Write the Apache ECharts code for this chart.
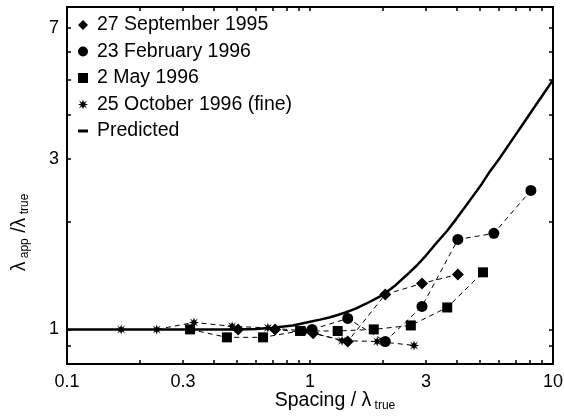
<!DOCTYPE html>
<html>
<head>
<meta charset="utf-8">
<script src="https://cdn.jsdelivr.net/npm/echarts@6/dist/echarts.min.js"></script>
<style>html,body{margin:0;padding:0;background:#fff}#c{width:564px;height:416px}</style>
</head>
<body>
<div id="c"></div>
<script>
// ---- data ----
var sep95X = [0.506, 0.718, 1.03, 1.43, 2.04, 2.89, 4.06];
var sep95Y = [1.0, 1.0, 0.975, 0.925, 1.253, 1.345, 1.426];

var feb96X = [1.02, 1.43, 2.04, 2.89, 4.06, 5.71, 8.11];
var feb96Y = [1.0, 1.073, 0.925, 1.16, 1.786, 1.858, 2.45];

var may96X = [0.321, 0.455, 0.641, 0.91, 1.30, 1.83, 2.6, 3.67, 5.15];
var may96Y = [1.0, 0.95, 0.95, 0.99, 0.99, 1.0, 1.026, 1.152, 1.445];

var oct96X = [0.167, 0.234, 0.333, 0.478, 0.671, 0.96, 1.355, 1.89, 2.68];
var oct96Y = [1.0, 1.0, 1.046, 1.02, 1.01, 0.99, 0.93, 0.925, 0.902];

var predX = [0.1, 0.3, 0.5, 0.6, 0.7, 0.85, 1.0, 1.1, 1.2, 1.3, 1.4, 1.55, 1.7, 1.85, 2.0, 2.25, 2.5, 2.75, 3.0, 3.3, 3.67, 4.0, 4.3, 4.7, 5.1, 5.5, 6.0, 6.5, 7.0, 7.5, 8.5, 9.0, 10];
var predY = [1, 1, 1.0, 1.003, 1.01, 1.025, 1.05, 1.065, 1.08, 1.097, 1.115, 1.145, 1.18, 1.215, 1.25, 1.33, 1.42, 1.51, 1.61, 1.74, 1.89, 2.04, 2.18, 2.37, 2.56, 2.77, 3.0, 3.25, 3.5, 3.75, 4.25, 4.5, 5.0];

var seriesNames = ['27 September 1995', '23 February 1996', '2 May 1996', '25 October 1996 (fine)', 'Predicted'];

var xTickLabels = [0.1, 0.3, 1, 3, 10];
var xTickMarks = [0.2, 0.3, 0.4, 0.5, 0.6, 0.7, 0.8, 0.9, 1, 2, 3, 4, 5, 6, 7, 8, 9];
var yTickLabels = [1, 3, 7];
var yTickMarks = [0.9, 1, 2, 3, 4, 5, 6, 7];

function zip(xs, ys) { return xs.map(function (x, i) { return [x, ys[i]]; }); }

var FONT = 'Liberation Sans';
var starPath = 'path://M5,0 L6,3 L9,1 L7,4 L10,5 L7,6 L9,9 L6,7 L5,10 L4,7 L1,9 L3,6 L0,5 L3,4 L1,1 L4,3 Z';
var dashPath = 'path://M0,0 H10 V3 H0 Z';

function fmt(v) { return String(+(+v).toPrecision(3)); }

function axisCommon(min, max, ticks, labels, showLabel, pos) {
  return {
    type: 'log', logBase: 10, min: min, max: max, position: pos,
    axisLine: { show: true, onZero: false, lineStyle: { color: '#000', width: 2 } },
    axisTick: { show: true, inside: true, length: 4, customValues: ticks, lineStyle: { color: '#000', width: 1.5 } },
    axisLabel: { show: showLabel, customValues: labels, formatter: fmt, color: '#000', fontFamily: FONT, fontSize: 18, margin: 9 },
    splitLine: { show: false },
    minorTick: { show: false },
    nameMoveOverlap: false
  };
}

var xBottom = axisCommon(0.1, 10, xTickMarks, xTickLabels, true, 'bottom');
xBottom.name = '{a|Spacing / λ}{s| true}';
xBottom.nameLocation = 'middle';
xBottom.nameGap = 27;
xBottom.nameTextStyle = {
  rich: {
    a: { fontFamily: FONT, fontSize: 19.5, color: '#000', lineHeight: 21, verticalAlign: 'top', padding: [0, 0, 0, 50] },
    s: { fontFamily: FONT, fontSize: 12, color: '#000', lineHeight: 12, verticalAlign: 'bottom', padding: [12, 0, 0, 0] }
  }
};
var xTop = axisCommon(0.1, 10, xTickMarks, xTickLabels, false, 'top');

var yLeft = axisCommon(0.8, 8, yTickMarks, yTickLabels, true, 'left');
yLeft.axisLabel.margin = 8;
yLeft.name = '{a|λ}{s| app}{a| /λ}{t| true}';
yLeft.nameLocation = 'middle';
yLeft.nameRotate = 90;
yLeft.nameGap = 36;
yLeft.nameTextStyle = {
  rich: {
    a: { fontFamily: FONT, fontSize: 19.5, color: '#000', lineHeight: 21, verticalAlign: 'top' },
    s: { fontFamily: FONT, fontSize: 12, color: '#000', lineHeight: 12, verticalAlign: 'bottom', padding: [12, 0, 0, 0] },
    t: { fontFamily: FONT, fontSize: 12, color: '#000', lineHeight: 12, verticalAlign: 'bottom', padding: [12, 94, 0, 0] }
  }
};
var yRight = axisCommon(0.8, 8, yTickMarks, yTickLabels, false, 'right');

function dataSeries(name, xs, ys, symbol, size) {
  return {
    name: name, type: 'line', xAxisIndex: 0, yAxisIndex: 0,
    data: zip(xs, ys),
    symbol: symbol, symbolSize: size, showSymbol: true,
    itemStyle: { color: '#000' },
    lineStyle: { color: '#000', width: 1, type: [5, 4] },
    z: 3, animation: false
  };
}

var option = {
  animation: false,
  backgroundColor: '#fff',
  grid: { left: 67, right: 11, top: 7, bottom: 52, containLabel: false, outerBoundsMode: 'none' },
  legend: {
    orient: 'vertical', left: 73, top: 10, itemGap: 6.5,
    itemWidth: 10, itemHeight: 10, selectedMode: false,
    textStyle: { fontFamily: FONT, fontSize: 19.5, color: '#000', padding: [0, 0, 0, 4] },
    data: [
      { name: seriesNames[0], icon: 'diamond' },
      { name: seriesNames[1], icon: 'circle' },
      { name: seriesNames[2], icon: 'rect' },
      { name: seriesNames[3], icon: starPath },
      { name: seriesNames[4], icon: dashPath }
    ]
  },
  xAxis: [xBottom, xTop],
  yAxis: [yLeft, yRight],
  series: [
    dataSeries(seriesNames[0], sep95X, sep95Y, 'diamond', 12),
    dataSeries(seriesNames[1], feb96X, feb96Y, 'circle', 11),
    dataSeries(seriesNames[2], may96X, may96Y, 'rect', 10),
    dataSeries(seriesNames[3], oct96X, oct96Y, starPath, 10),
    {
      name: seriesNames[4], type: 'line', data: zip(predX, predY),
      symbol: 'none', smooth: false,
      itemStyle: { color: '#000' },
      lineStyle: { color: '#000', width: 2.5 }, z: 2
    }
  ]
};
var chart = echarts.init(document.getElementById('c'), null, { renderer: 'canvas' });
chart.setOption(option);
</script>
</body>
</html>
